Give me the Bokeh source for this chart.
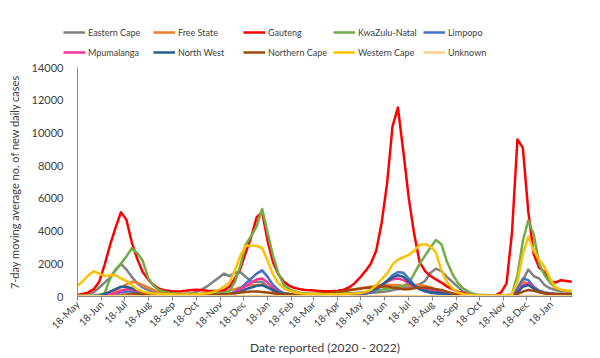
import math
import pandas as pd
from bokeh.plotting import figure
from bokeh.models import Range1d, FixedTicker, Legend, LegendItem
from bokeh.embed import file_html
from bokeh.resources import INLINE

# ---------------- data (weekly readings of the 7-day moving average) ----------------
start_date = "2020-05-18"
n_weeks = 92

provinces = ["Eastern Cape", "Free State", "Gauteng", "KwaZulu-Natal", "Limpopo",
             "Mpumalanga", "North West", "Northern Cape", "Western Cape", "Unknown"]

eastern_cape = [60, 80, 120, 250, 550, 850, 1150, 1600, 2000, 1650,
                1200, 800, 550, 400, 280, 200, 160, 140, 130, 130,
                150, 200, 300, 450, 650, 900, 1150, 1400, 1250, 1450,
                1480, 1200, 900, 900, 900, 600, 350, 220, 170, 150,
                130, 120, 110, 110, 110, 120, 130, 150, 170, 190,
                200, 200, 210, 220, 230, 250, 280, 320, 380, 450,
                500, 550, 650, 750, 950, 1450, 1700, 1550, 1200, 900,
                600, 300, 150, 80, 70, 60, 60, 60, 70, 80,
                100, 250, 1000, 1650, 1250, 1100, 700, 500, 400, 330,
                300, 280]
free_state = [10, 15, 20, 30, 50, 100, 200, 350, 550, 750,
              900, 850, 700, 550, 400, 300, 220, 180, 150, 150,
              150, 150, 160, 180, 200, 230, 270, 320, 380, 450,
              550, 650, 700, 700, 720, 600, 400, 250, 180, 150,
              130, 130, 140, 150, 170, 200, 230, 260, 300, 350,
              400, 450, 500, 550, 600, 650, 700, 700, 700, 700,
              650, 650, 700, 700, 650, 550, 450, 350, 250, 150,
              100, 60, 40, 30, 30, 30, 30, 30, 40, 60,
              120, 500, 900, 800, 550, 350, 250, 200, 170, 150,
              150, 140]
gauteng = [100, 150, 250, 450, 900, 1950, 3150, 4200, 5150, 4700,
           3300, 2300, 1500, 1050, 700, 480, 380, 330, 300, 320,
           350, 400, 420, 380, 350, 330, 350, 400, 600, 1100,
           1700, 2700, 3650, 4850, 5150, 3400, 2100, 1350, 900, 650,
           520, 450, 400, 380, 350, 330, 320, 330, 350, 420,
           550, 800, 1150, 1550, 2000, 2800, 4500, 6900, 10400, 11550,
           8850, 6000, 3800, 2100, 1550, 1250, 1050, 850, 620, 450,
           300, 200, 120, 90, 80, 80, 80, 90, 250, 800,
           3900, 9600, 9100, 5200, 2600, 1750, 1500, 950, 850, 1000,
           950, 900]
kwazulu_natal = [50, 50, 60, 70, 100, 200, 1100, 1650, 2000, 2450,
                 2950, 2650, 2200, 1150, 650, 400, 280, 220, 180, 160,
                 150, 150, 140, 140, 150, 160, 180, 220, 350, 900,
                 1900, 3200, 3700, 4300, 5350, 3900, 2500, 1400, 700, 450,
                 300, 230, 200, 180, 170, 160, 160, 170, 180, 190,
                 200, 220, 250, 280, 320, 380, 420, 480, 520, 580,
                 650, 800, 1400, 2000, 2500, 3000, 3450, 3200, 2150, 1400,
                 850, 500, 300, 150, 100, 90, 80, 80, 80, 80,
                 150, 1300, 3400, 4650, 3800, 2000, 1300, 850, 550, 420,
                 350, 320]
limpopo = [5, 5, 10, 15, 30, 60, 100, 150, 250, 300,
           300, 250, 200, 150, 100, 80, 70, 60, 60, 50,
           50, 50, 50, 55, 60, 70, 80, 100, 150, 300,
           500, 800, 1100, 1400, 1600, 1200, 700, 400, 200, 120,
           80, 60, 50, 50, 50, 50, 50, 60, 70, 80,
           90, 100, 120, 150, 250, 400, 650, 950, 1300, 1500,
           1450, 1100, 700, 450, 300, 220, 180, 150, 120, 100,
           70, 50, 40, 30, 30, 30, 30, 30, 30, 40,
           100, 500, 1100, 1000, 600, 350, 250, 200, 170, 150,
           150, 140]
mpumalanga = [5, 5, 10, 15, 25, 50, 120, 220, 350, 450,
              430, 350, 250, 180, 120, 90, 70, 60, 60, 55,
              55, 55, 55, 60, 65, 70, 80, 100, 150, 250,
              450, 650, 850, 1050, 1100, 850, 500, 300, 180, 120,
              80, 60, 50, 50, 50, 50, 50, 60, 70, 80,
              100, 130, 170, 230, 330, 500, 700, 900, 1050, 1100,
              1000, 800, 620, 520, 470, 420, 370, 280, 180, 110,
              60, 40, 30, 25, 25, 25, 25, 25, 30, 40,
              80, 300, 700, 800, 550, 300, 200, 150, 130, 120,
              120, 110]
north_west = [10, 15, 20, 30, 80, 150, 300, 450, 600, 600,
              500, 380, 280, 200, 150, 110, 90, 80, 70, 70,
              70, 70, 70, 75, 80, 90, 100, 120, 150, 200,
              300, 450, 550, 650, 700, 550, 400, 250, 180, 150,
              120, 100, 90, 90, 90, 100, 110, 120, 130, 140,
              150, 170, 200, 250, 350, 500, 700, 950, 1150, 1300,
              1200, 900, 650, 450, 350, 280, 250, 200, 150, 100,
              60, 40, 30, 30, 30, 30, 30, 30, 30, 40,
              80, 250, 600, 700, 500, 300, 200, 150, 130, 120,
              120, 110]
northern_cape = [5, 5, 5, 10, 10, 15, 20, 50, 80, 120,
                 150, 170, 180, 160, 140, 120, 100, 90, 85, 80,
                 80, 80, 85, 90, 95, 100, 110, 120, 150, 200,
                 250, 280, 300, 300, 280, 250, 200, 150, 130, 120,
                 120, 120, 130, 140, 150, 170, 200, 240, 280, 330,
                 380, 430, 480, 520, 550, 580, 600, 620, 550, 500,
                 450, 450, 500, 550, 550, 500, 450, 400, 300, 200,
                 120, 70, 50, 40, 35, 30, 30, 30, 35, 40,
                 60, 150, 300, 400, 350, 250, 200, 170, 150, 150,
                 140, 130]
western_cape = [650, 950, 1300, 1550, 1400, 1250, 1300, 1300, 1100, 950,
                700, 420, 300, 220, 180, 160, 140, 130, 120, 110,
                110, 120, 140, 170, 200, 280, 400, 600, 850, 1600,
                2500, 3100, 3100, 3100, 2950, 2200, 1350, 800, 500, 350,
                250, 200, 170, 150, 140, 130, 130, 140, 150, 160,
                170, 190, 220, 270, 400, 700, 1050, 1400, 1950, 2250,
                2400, 2550, 2800, 3150, 3200, 3050, 2700, 1600, 900, 500,
                250, 150, 100, 80, 70, 60, 60, 60, 70, 80,
                150, 900, 2600, 3650, 2800, 2250, 1800, 1100, 550, 420,
                360, 330]
unknown = [20, 25, 30, 30, 25, 20, 20, 25, 30, 30,
           25, 20, 20, 20, 15, 15, 15, 15, 15, 15,
           15, 15, 15, 15, 15, 20, 20, 20, 25, 25,
           30, 30, 30, 30, 25, 25, 20, 20, 15, 15,
           15, 15, 15, 15, 15, 15, 15, 15, 15, 15,
           15, 15, 20, 20, 20, 25, 25, 30, 30, 30,
           30, 25, 25, 20, 20, 20, 20, 15, 15, 15,
           10, 10, 10, 10, 10, 10, 10, 10, 10, 10,
           15, 20, 30, 30, 25, 20, 15, 15, 15, 15,
           15, 15]

series = [eastern_cape, free_state, gauteng, kwazulu_natal, limpopo,
          mpumalanga, north_west, northern_cape, western_cape, unknown]
colors = ["#808080", "#ED7D31", "#FF0000", "#70AD47", "#4472C4",
          "#FF3399", "#255E91", "#9E480E", "#FFC000", "#FFD08A"]

tick_labels = ["18-May", "18-Jun", "18-Jul", "18-Aug", "18-Sep", "18-Oct", "18-Nov",
               "18-Dec", "18-Jan", "18-Feb", "18-Mar", "18-Apr", "18-May", "18-Jun",
               "18-Jul", "18-Aug", "18-Sep", "18-Oct", "18-Nov", "18-Dec", "18-Jan"]
y_ticks = [0, 2000, 4000, 6000, 8000, 10000, 12000, 14000]
y_max = 14000
axis_start = "2020-05-18"
axis_end = "2022-02-15"

# ---------------- chart ----------------
dates = pd.date_range(start_date, periods=n_weeks, freq="7D")
for s in series:
    assert len(s) == n_weeks, len(s)

def ms(t):
    return int(pd.Timestamp(t).value // 10**6)

tick_ms = [ms(pd.Timestamp(axis_start) + pd.DateOffset(months=i)) for i in range(len(tick_labels))]

FONT = "Lato"
TXT = "#404040"
AX = "#868686"
LW = 2.5
LEG_H = 60

# --- legend strip (top of the page) ---
leg_fig = figure(width=600, height=LEG_H, x_axis_type="datetime",
                 x_range=Range1d(ms(axis_start), ms(axis_end)), y_range=Range1d(0, y_max),
                 x_axis_location=None, y_axis_location=None, min_border=0,
                 output_backend="svg", toolbar_location=None)
leg_fig.outline_line_color = None
leg_fig.xgrid.visible = False
leg_fig.ygrid.visible = False
leg_items = []
for name, vals, col in zip(provinces, series, colors):
    # a single data point (no visible segment): only supplies the legend swatch
    r = leg_fig.line(x=dates[:1], y=vals[:1], line_color=col, line_width=LW)
    leg_items.append(LegendItem(label=name, renderers=[r]))
legend = Legend(items=leg_items, orientation="horizontal", ncols=5,
                location=(63, -2), padding=0, margin=0, spacing=0,
                border_line_color=None, background_fill_alpha=0,
                glyph_width=22, glyph_height=20, label_height=20, label_width=65,
                label_standoff=3, label_text_font=FONT, label_text_font_size="9px",
                label_text_color=TXT)
leg_fig.add_layout(legend, "center")

# --- main chart (frame: x 77..572, y 67..297 in page px) ---
p = figure(width=600, height=358 - LEG_H, x_axis_type="datetime",
           x_range=Range1d(ms(axis_start), ms(axis_end)),
           y_range=Range1d(0, y_max),
           output_backend="svg", toolbar_location=None,
           min_border_left=77, min_border_right=28, min_border_top=67 - LEG_H,
           min_border_bottom=61)
p.outline_line_color = None
p.xgrid.visible = False
p.ygrid.visible = False

for vals, col in zip(series, colors):
    p.line(dates, vals, line_color=col, line_width=LW, line_join="round")

ya = p.yaxis[0]
ya.ticker = FixedTicker(ticks=y_ticks)
ya.axis_line_color = AX
ya.major_tick_line_color = None
ya.minor_tick_line_color = None
ya.major_label_standoff = 8
ya.major_label_text_font = FONT
ya.major_label_text_font_size = "11px"
ya.major_label_text_color = TXT
ya.axis_label = "7-day moving average no. of new daily cases"
ya.axis_label_text_font = FONT
ya.axis_label_text_font_size = "11px"
ya.axis_label_text_font_style = "normal"
ya.axis_label_text_color = TXT
ya.axis_label_standoff = 8

xa = p.xaxis[0]
xa.ticker = FixedTicker(ticks=tick_ms)
xa.major_label_overrides = {m: lab for m, lab in zip(tick_ms, tick_labels)}
xa.major_label_orientation = math.pi / 4
xa.axis_line_color = AX
xa.major_tick_line_color = AX
xa.major_tick_out = 4
xa.major_tick_in = 0
xa.minor_tick_line_color = None
xa.major_label_standoff = 2
xa.major_label_text_font = FONT
xa.major_label_text_font_size = "10px"
xa.major_label_text_color = TXT
xa.axis_label = "Date reported (2020 - 2022)"
xa.axis_label_text_font = FONT
xa.axis_label_text_font_size = "12px"
xa.axis_label_text_font_style = "normal"
xa.axis_label_text_color = TXT
xa.axis_label_standoff = 2

open("out.html", "w").write(file_html([leg_fig, p], INLINE))
